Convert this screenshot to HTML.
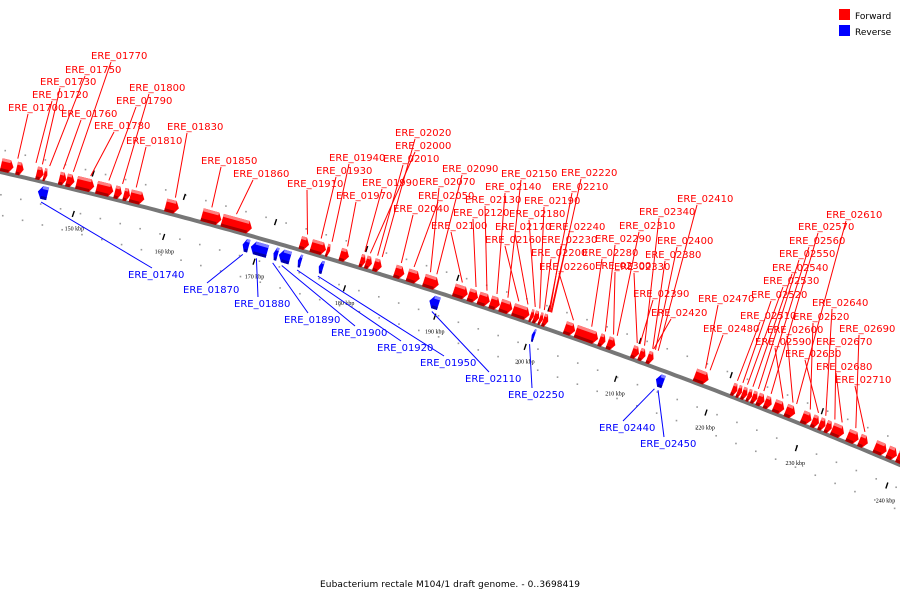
<!DOCTYPE html>
<html><head><meta charset="utf-8"><style>
html,body{margin:0;padding:0;background:#fff;}
svg{display:block;font-family:"DejaVu Sans","Liberation Sans",sans-serif;}
</style></head><body>
<svg id="chart" width="900" height="600" viewBox="0 0 900 600" xmlns="http://www.w3.org/2000/svg">
<g id="bg-marks"></g>
<path id="backbone" fill="none" stroke="#777" stroke-width="4"/>
<g id="genes"></g>
<g id="labels"></g>
<g>
<rect x="839" y="9" width="11" height="11" fill="#f00"/>
<text x="855" y="19" font-size="9" fill="#000">Forward</text>
<rect x="839" y="25" width="11" height="11" fill="#00f"/>
<text x="855" y="35" font-size="9" fill="#000">Reverse</text>
</g>
<text x="450" y="587" font-size="9" text-anchor="middle" fill="#000" textLength="260">Eubacterium rectale M104/1 draft genome. - 0..3698419</text>
</svg>
<script>
const fwdStart=[141.9,143.6,145.8,146.6,148.3,149.1,150.2,152.4,154.4,155.4,156.1,160.0,164.0,166.2,174.8,176.0,177.7,179.2,181.4,182.0,182.9,185.2,186.6,188.4,191.7,193.3,194.4,195.7,196.8,198.2,200.1,200.5,201.1,201.5,203.9,205.1,207.7,208.6,211.3,212.1,213.0,218.2,222.3,222.9,223.4,224.0,224.5,225.1,225.9,226.9,228.2,230.0,231.1,231.9,232.6,233.3,235.0,236.3,238.0,239.4,240.5];
const fwdEnd=[143.3,144.4,146.6,147.0,149.1,150.0,152.2,154.3,155.2,156.1,157.7,161.5,166.2,169.6,175.8,177.7,178.1,180.2,182.0,182.7,183.8,186.3,188.0,190.1,193.3,194.4,195.7,196.8,198.2,200.1,200.5,201.1,201.5,202.1,205.1,207.7,208.4,209.5,212.1,212.8,213.7,219.8,222.9,223.4,224.0,224.5,225.1,225.9,226.7,228.1,229.3,231.1,231.9,232.6,233.3,234.7,236.3,237.3,239.4,240.5,241.5];
const revStart=[146.4,169.0,169.9,172.4,173.0,175.1,177.4,189.6,200.9,214.6];
const revEnd=[147.5,169.7,171.8,172.9,174.3,175.5,177.9,190.7,201.2,215.5];
const fwdNames=["ERE_01770","ERE_01750","ERE_01730","ERE_01720","ERE_01700","ERE_01800","ERE_01790","ERE_01760","ERE_01780","ERE_01830","ERE_01810","ERE_01850","ERE_01860","ERE_01910","ERE_01940","ERE_01930","ERE_02020","ERE_02000","ERE_02010","ERE_01990","ERE_01970","ERE_02070","ERE_02090","ERE_02050","ERE_02040","ERE_02150","ERE_02140","ERE_02130","ERE_02120","ERE_02100","ERE_02220","ERE_02210","ERE_02190","ERE_02180","ERE_02170","ERE_02160","ERE_02240","ERE_02230","ERE_02200","ERE_02260","ERE_02410","ERE_02340","ERE_02310","ERE_02290","ERE_02400","ERE_02280","ERE_02380","ERE_02300","ERE_02330","ERE_02390","ERE_02470","ERE_02420","ERE_02480","ERE_02610","ERE_02570","ERE_02560","ERE_02550","ERE_02540","ERE_02530","ERE_02520","ERE_02640","ERE_02510","ERE_02620","ERE_02600","ERE_02690","ERE_02590","ERE_02670","ERE_02630","ERE_02680","ERE_02710"];
const fwdTarget=[149.6,147.0,146.2,145.5,143.5,155.0,153.5,148.5,151.5,160.8,156.5,164.8,167.5,175.3,178.0,176.8,183.5,182.2,183.0,181.6,179.7,188.8,189.5,187.0,185.6,197.3,196.1,195.0,193.8,192.3,202.1,201.8,200.8,200.3,199.5,198.5,202.0,201.9,201.3,204.5,213.8,212.3,209.3,208.0,213.5,206.5,213.2,208.9,211.5,211.8,219.0,213.3,219.5,229.0,226.2,225.4,224.8,224.2,223.6,223.1,232.2,222.5,230.5,228.6,235.5,227.5,233.2,231.4,234.0,236.5];
const fwdLabelX=[91,65,40,32,8,129,116,61,94,167,126,201,233,287,329,316,395,395,383,362,336,419,442,418,393,501,485,465,453,431,561,552,524,509,495,485,549,541,531,539,677,639,619,595,657,582,645,595,614,633,698,651,703,826,798,789,779,772,763,751,812,740,793,767,839,755,816,785,816,835];
const fwdLabelY=[55,69,81,94,107,87,100,113,125,126,140,160,173,183,157,170,132,145,158,182,195,181,168,195,208,173,186,199,212,225,172,186,200,213,226,239,226,239,252,266,198,211,225,238,240,252,254,265,266,293,298,312,328,214,226,240,253,267,280,294,302,315,316,329,328,341,341,353,366,379];
const revNames=["ERE_01740","ERE_01870","ERE_01880","ERE_01890","ERE_01900","ERE_01920","ERE_01950","ERE_02110","ERE_02250","ERE_02440","ERE_02450"];
const revTarget=[147.0,169.3,170.8,172.6,173.6,175.3,177.6,190.2,201.0,214.8,215.2];
const revLabelX=[128,183,234,284,331,377,420,465,508,599,640];
const revLabelY=[274,289,303,319,332,347,362,378,394,427,443];
const tickKbp=[150,160,170,180,190,200,210,220,230,240];
const tickLabels=["150 kbp","160 kbp","170 kbp","180 kbp","190 kbp","200 kbp","210 kbp","220 kbp","230 kbp","240 kbp"];

const NS="http://www.w3.org/2000/svg";
const A=0.2272,B=0.0001093;
function xOf(k){return 73+(k-150)*9.08;}
function yOf(x){return 172+A*x+B*x*x;}
function ang(x){return Math.atan(A+2*B*x);}
function pt(k,off){const x0=xOf(k),a=ang(x0);return [x0-Math.sin(a)*off, yOf(x0)+Math.cos(a)*off];}
function mk(tag,attrs,parent){const e=document.createElementNS(NS,tag);for(const k in attrs)e.setAttribute(k,attrs[k]);parent.appendChild(e);return e;}

let d="";for(let x=-5;x<=905;x+=5){d+=(x===-5?"M":"L")+x+","+yOf(x).toFixed(1)+" ";}
document.getElementById('backbone').setAttribute('d',d);

const bg=document.getElementById('bg-marks');
for(let k=142;k<=242;k+=2.2){
  for(const off of [-22,22,42]){
    const p=pt(k+(off>0?(off===22?0.6:1.3):0),off);
    const c=mk('rect',{x:p[0]-0.8,y:p[1]-0.8,width:1.6,height:1.6,fill:'#999'},bg);
    
    
  }
}
for(let i=0;i<tickKbp.length;i++){
  const p=pt(tickKbp[i]+0.66,24),q=pt(tickKbp[i]+1.2,40);
  const t=mk('line',{x1:p[0]-1,y1:p[1]+3,x2:p[0]+1,y2:p[1]-3,stroke:'#000','stroke-width':1.4},bg);
  
  
  const l=mk('text',{x:q[0],y:q[1],'font-size':6,'text-anchor':'middle',fill:'#000','font-family':'Liberation Serif, serif'},bg);
  l.textContent=tickLabels[i];
  
  
  const u=pt(tickKbp[i]+1.7,-20);
  const m=mk('line',{x1:u[0]-1,y1:u[1]+3,x2:u[0]+1,y2:u[1]-3,stroke:'#000','stroke-width':1.4},bg);
  
  
}

const G=document.getElementById('genes');
function gene(s,e,fwd){
  const x0=xOf(s),x1=xOf(e),len=Math.max(3,x1-x0);
  const xm=(x0+x1)/2,a=ang(xm)*180/Math.PI;
  const g=mk('g',{transform:`translate(${x0.toFixed(1)},${yOf(x0).toFixed(1)}) rotate(${a.toFixed(2)})`},G);
  
  
  const h=Math.min(4,len*0.45);
  const col=fwd?'#f00':'#00f',light=fwd?'#ff8080':'#8080ff',dark=fwd?'#a00':'#00a';
  const top=fwd?-14:4,bot=fwd?-1:17;
  let P;
  if(fwd)P=`0,${top} ${len-h},${top} ${len},${(top+bot)/2} ${len-h},${bot} 0,${bot}`;
  else P=`${h},${top} ${len},${top} ${len},${bot} ${h},${bot} 0,${(top+bot)/2}`;
  mk('polygon',{points:P,fill:col},g);
  mk('rect',{x:fwd?0:h,y:top,width:Math.max(0,len-h),height:3,fill:light},g);
  mk('rect',{x:fwd?0:h,y:bot-3,width:Math.max(0,len-h),height:3,fill:dark},g);
}
for(let i=0;i<fwdStart.length;i++)gene(fwdStart[i],fwdEnd[i],true);
for(let i=0;i<revStart.length;i++)gene(revStart[i],revEnd[i],false);

const L=document.getElementById('labels');
for(let i=0;i<fwdNames.length;i++){
  const p=pt(fwdTarget[i],-17);
  const ln=mk('line',{x1:fwdLabelX[i]+20,y1:fwdLabelY[i]+7,x2:p[0],y2:p[1],stroke:'#f00','stroke-width':1},L);
  
  
  const t=mk('text',{x:fwdLabelX[i],y:fwdLabelY[i]+4,'font-size':10,fill:'#f00'},L);
  t.textContent=fwdNames[i];
  
  
}
for(let i=0;i<revNames.length;i++){
  const p=pt(revTarget[i],20);
  const ln=mk('line',{x1:p[0],y1:p[1],x2:revLabelX[i]+24,y2:revLabelY[i]-6,stroke:'#00f','stroke-width':1},L);
  
  
  const t=mk('text',{x:revLabelX[i],y:revLabelY[i]+4,'font-size':10,fill:'#00f'},L);
  t.textContent=revNames[i];
  
  
}
</script>
</body></html>
